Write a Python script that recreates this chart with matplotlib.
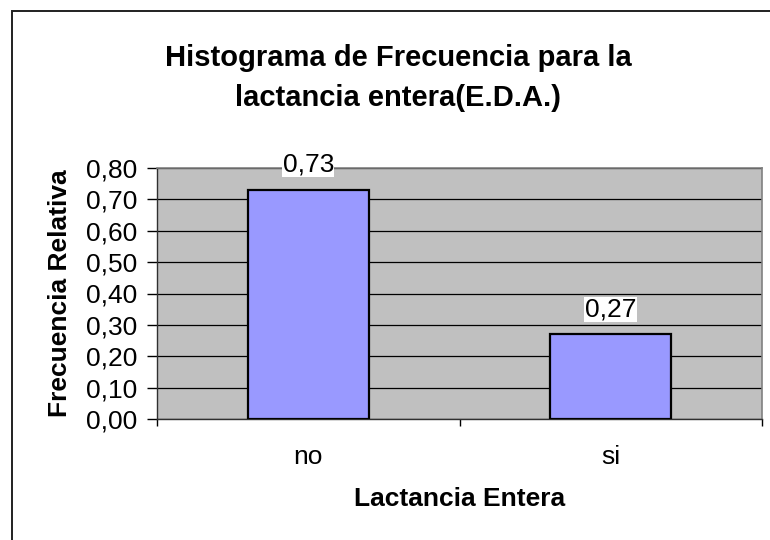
import matplotlib.pyplot as plt
from matplotlib.patches import Rectangle
import numpy as np

plt.rcParams['font.family'] = ['Liberation Sans', 'DejaVu Sans']

categories = ['no', 'si']
frecuencia = [0.73, 0.27]
value_labels = ['0,73', '0,27']
y_ticks = [0.0, 0.1, 0.2, 0.3, 0.4, 0.5, 0.6, 0.7, 0.8]
y_tick_labels = ['0,00', '0,10', '0,20', '0,30', '0,40', '0,50', '0,60', '0,70', '0,80']

fig = plt.figure(figsize=(7.7, 5.4), dpi=100)
W, H = 770, 540

# outer chart border like the spreadsheet frame
fig.patches.append(Rectangle((12 / W, -0.1), 1.2, 1 - 11 / H + 0.1, transform=fig.transFigure,
                             fill=False, edgecolor='#202020', linewidth=1.4))

ax = fig.add_axes([157 / W, 1 - 419 / H, (762 - 157) / W, (419 - 168) / H])
ax.set_facecolor('#C0C0C0')

x = np.arange(len(categories))
ax.bar(x, frecuencia, width=0.4, color='#9999FF', edgecolor='black', linewidth=1.6, zorder=3)

for xi, v, lab in zip(x, frecuencia, value_labels):
    ax.annotate(lab, (xi, v), xytext=(0, 25), textcoords='offset pixels', ha='center', va='center',
                fontsize=19, zorder=4,
                bbox=dict(boxstyle='square,pad=0.02', facecolor='white', edgecolor='none'))

ax.set_xlim(-0.5, 1.5)
ax.set_ylim(0, 0.8)
ax.set_yticks(y_ticks)
ax.set_yticklabels(y_tick_labels, fontsize=19)
ax.set_xticks(x)
ax.set_xticklabels(categories, fontsize=19)
ax.set_xticks([-0.5, 0.5, 1.5], minor=True)
ax.tick_params(axis='x', which='major', length=0, pad=19)
ax.tick_params(axis='x', which='minor', length=5, direction='out', width=1)
ax.tick_params(axis='y', length=7, direction='out', width=1, pad=7)
ax.yaxis.grid(True, color='black', linewidth=0.9, zorder=1)
ax.set_axisbelow(True)

for side in ['top', 'right']:
    ax.spines[side].set_color('#808080')
    ax.spines[side].set_linewidth(1.2)
for side in ['left', 'bottom']:
    ax.spines[side].set_color('#303030')
    ax.spines[side].set_linewidth(1.0)

ax.set_xlabel('Lactancia Entera', fontsize=19, fontweight='bold', labelpad=13)
ax.set_ylabel('Frecuencia Relativa', fontsize=19, fontweight='bold', labelpad=10)

fig.text(398 / W, 1 - 78 / H, 'Histograma de Frecuencia para la\nlactancia entera(E.D.A.)',
         ha='center', va='center', fontsize=21, fontweight='bold', linespacing=1.52)

fig.savefig('out.png', dpi=100)
